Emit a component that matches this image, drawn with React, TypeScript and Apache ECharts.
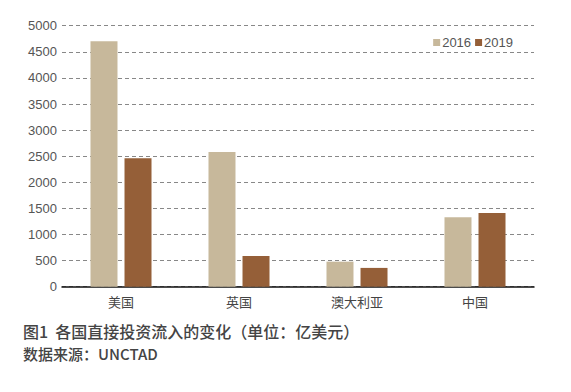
import React, { useEffect, useRef } from "react";
import * as echarts from "echarts";

const categories = ["美国", "英国", "澳大利亚", "中国"];
const series2016 = [4700, 2580, 480, 1330];
const series2019 = [2460, 590, 360, 1410];
const seriesNames = ["2016", "2019"];
const yTicks = { min: 0, max: 5000, interval: 500 };
const captionLine1 = "图1  各国直接投资流入的变化（单位：亿美元）";
const captionLine2 = "数据来源：UNCTAD";

export default function App() {
  const ref = useRef<HTMLDivElement>(null);
  useEffect(() => {
    if (!ref.current) return;
    const chart = echarts.init(ref.current, null, { renderer: "svg" });
    const font = "'Liberation Sans', 'Noto Sans CJK SC', sans-serif";
    chart.setOption({
      animation: false,
      backgroundColor: "#ffffff",
      textStyle: { fontFamily: font },
      grid: { left: 62, right: 37, top: 25.7, bottom: 105.3, containLabel: false },
      legend: {
        right: 53,
        top: 31,
        itemWidth: 7,
        itemHeight: 7,
        itemGap: 4,
        icon: "rect",
        textStyle: { fontSize: 13, color: "#555", padding: [0, 0, 0, -3] },
        data: seriesNames,
      },
      xAxis: {
        type: "category",
        data: categories,
        axisLine: { lineStyle: { color: "#111", width: 1.5 } },
        axisTick: { show: false },
        axisLabel: { fontSize: 13, color: "#444", margin: 9 },
      },
      yAxis: {
        type: "value",
        min: yTicks.min,
        max: yTicks.max,
        interval: yTicks.interval,
        axisLine: { show: false },
        axisTick: { show: false },
        axisLabel: { fontSize: 13, color: "#555", margin: 5, formatter: (v: number) => String(v) },
        splitLine: { lineStyle: { color: "#888", type: [4, 3], width: 1 } },
      },
      series: [
        {
          name: seriesNames[0],
          type: "bar",
          data: series2016,
          barWidth: 27,
          barGap: "26%",
          itemStyle: { color: "#C7B89B" },
        },
        {
          name: seriesNames[1],
          type: "bar",
          data: series2019,
          barWidth: 27,
          barGap: "26%",
          itemStyle: { color: "#955F38" },
        },
      ],
      graphic: [
        {
          type: "text",
          left: 23,
          top: 323,
          style: {
            text: captionLine1,
            fontSize: 16,
            fontWeight: 500,
            fill: "#444",
            fontFamily: "'Noto Sans CJK SC', sans-serif",
          },
        },
        {
          type: "text",
          left: 23,
          top: 346,
          style: {
            text: captionLine2,
            fontSize: 15,
            fontWeight: 500,
            fill: "#444",
            fontFamily: "'Noto Sans CJK SC', sans-serif",
          },
        },
      ],
    });
    return () => chart.dispose();
  }, []);
  return <div ref={ref} style={{ width: 571, height: 392, position: "absolute", left: 0, top: 0 }} />;
}
